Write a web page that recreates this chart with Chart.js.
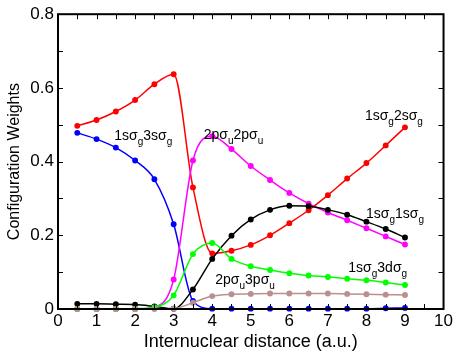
<!DOCTYPE html>
<html>
<head>
<meta charset="utf-8">
<script src="https://cdn.jsdelivr.net/npm/chart.js@4"></script>
<style>
  body { margin: 0; background: #fff; }
  #wrap { width: 455px; height: 355px; }
</style>
</head>
<body>
<div id="wrap"><canvas id="grafico"></canvas></div>
<script>
// distancia internuclear (u.a.)
const distancias = [0.5, 1, 1.5, 2, 2.5, 3, 3.5, 4, 4.5, 5, 5.5, 6, 6.5, 7, 7.5, 8, 8.5, 9];

// pesos de configuracion
const rojo = [0.497, 0.513, 0.536, 0.567, 0.610, 0.637, 0.330, 0.151, 0.158, 0.174, 0.200, 0.233, 0.268, 0.309, 0.354, 0.396, 0.444, 0.493];
const azul = [0.478, 0.461, 0.438, 0.403, 0.352, 0.230, 0.022, 0.001, 0.001, 0.001, 0.001, 0.001, 0.001, 0.001, 0.001, 0.001, 0.002, 0.003];
const magenta = [0, 0, 0, 0, 0.005, 0.080, 0.403, 0.469, 0.434, 0.388, 0.350, 0.315, 0.286, 0.262, 0.241, 0.219, 0.197, 0.175];
const negro = [0.014, 0.014, 0.013, 0.012, 0.007, 0.001, 0.053, 0.136, 0.199, 0.243, 0.269, 0.280, 0.279, 0.269, 0.256, 0.237, 0.217, 0.194];
const verde = [0, 0, 0, 0.001, 0.005, 0.037, 0.149, 0.179, 0.136, 0.116, 0.106, 0.097, 0.091, 0.087, 0.082, 0.078, 0.072, 0.065];
const marron = [0, 0, 0, 0, 0, 0.001, 0.017, 0.035, 0.040, 0.041, 0.042, 0.042, 0.042, 0.042, 0.041, 0.040, 0.039, 0.038];

const ticksX = [0, 1, 2, 3, 4, 5, 6, 7, 8, 9, 10];
const ticksY = [0, 0.2, 0.4, 0.6, 0.8];

// etiquetas de cada curva: [texto, subindice, texto, subindice]
const etiquetas = [
    { x: 1.46, y: 0.459, partes: ["1sσ", "g", "3sσ", "g"] },
    { x: 3.78, y: 0.462, partes: ["2pσ", "u", "2pσ", "u"] },
    { x: 7.96, y: 0.513, partes: ["1sσ", "g", "2sσ", "g"] },
    { x: 7.99, y: 0.248, partes: ["1sσ", "g", "1sσ", "g"] },
    { x: 7.53, y: 0.100, partes: ["1sσ", "g", "3dσ", "g"] },
    { x: 4.08, y: 0.067, partes: ["2pσ", "u", "3pσ", "u"] },
];

const FUENTE = "'Liberation Sans', Arial, sans-serif";

function serie(valores, color) {
    return {
        data: valores.map((v, i) => ({ x: distancias[i], y: v })),
        borderColor: color,
        backgroundColor: color,
        borderWidth: 1.5,
        pointRadius: 2.2,
        pointHoverRadius: 2.2,
        cubicInterpolationMode: "monotone",
        clip: false,
    };
}

const marco = {
    id: "marco",
    afterDraw(chart) {
        const ctx = chart.ctx;
        const a = chart.chartArea;
        const sx = chart.scales.x;
        const sy = chart.scales.y;
        ctx.save();
        ctx.strokeStyle = "#000";
        ctx.lineWidth = 1;
        const largo = 5;
        for (let v = 0.5; v < 10; v += 0.5) {
            const px = Math.round(sx.getPixelForValue(v)) + 0.5;
            ctx.beginPath();
            ctx.moveTo(px, a.bottom); ctx.lineTo(px, a.bottom - largo);
            ctx.moveTo(px, a.top); ctx.lineTo(px, a.top + largo);
            ctx.stroke();
        }
        for (let v = 0.1; v < 0.8; v += 0.1) {
            const py = Math.round(sy.getPixelForValue(v)) + 0.5;
            ctx.beginPath();
            ctx.moveTo(a.left, py); ctx.lineTo(a.left + largo, py);
            ctx.moveTo(a.right, py); ctx.lineTo(a.right - largo, py);
            ctx.stroke();
        }
        ctx.lineWidth = 2;
        ctx.strokeRect(a.left, a.top, a.right - a.left, a.bottom - a.top);

        ctx.fillStyle = "#000";
        ctx.textBaseline = "alphabetic";
        etiquetas.forEach((e) => {
            let px = sx.getPixelForValue(e.x);
            const py = sy.getPixelForValue(e.y);
            e.partes.forEach((t, i) => {
                const sub = i % 2 === 1;
                ctx.font = (sub ? "10px " : "14px ") + FUENTE;
                ctx.fillText(t, px, py + (sub ? 5 : 0));
                px += ctx.measureText(t).width;
            });
        });
        ctx.restore();
    },
};

new Chart(document.getElementById("grafico"), {
    type: "line",
    data: {
        datasets: [
            serie(marron, "#bc8f8f"),
            serie(verde, "#00ff00"),
            serie(negro, "#000000"),
            serie(magenta, "#ff00ff"),
            serie(azul, "#0000ff"),
            serie(rojo, "#ff0000"),
        ],
    },
    options: {
        responsive: true,
        maintainAspectRatio: false,
        animation: false,
        layout: { padding: { top: 11, right: 9, left: 5, bottom: 0 } },
        plugins: { legend: { display: false }, tooltip: { enabled: false } },
        scales: {
            x: {
                type: "linear",
                min: 0,
                max: 10,
                afterBuildTicks: (s) => { s.ticks = ticksX.map((v) => ({ value: v })); },
                grid: { display: false, drawTicks: false },
                border: { display: false },
                ticks: { color: "#000", font: { family: FUENTE, size: 17 }, padding: 2, maxRotation: 0 },
                title: { display: true, text: "Internuclear distance (a.u.)", color: "#000", font: { family: FUENTE, size: 18 }, padding: { top: 0, bottom: 2 } },
                afterFit: (s) => { s.height = 46; },
            },
            y: {
                min: 0,
                max: 0.8,
                afterBuildTicks: (s) => { s.ticks = ticksY.map((v) => ({ value: v })); },
                grid: { display: false, drawTicks: false },
                border: { display: false },
                ticks: { color: "#000", font: { family: FUENTE, size: 17 }, padding: 4, callback: (v) => (v === 0 ? "0" : v.toFixed(1)) },
                title: { display: true, text: "Configuration Weights", color: "#000", font: { family: FUENTE, size: 16 }, padding: { top: 0, bottom: 2 } },
                afterFit: (s) => { s.width = 53; },
            },
        },
    },
    plugins: [marco],
});
</script>
</body>
</html>
